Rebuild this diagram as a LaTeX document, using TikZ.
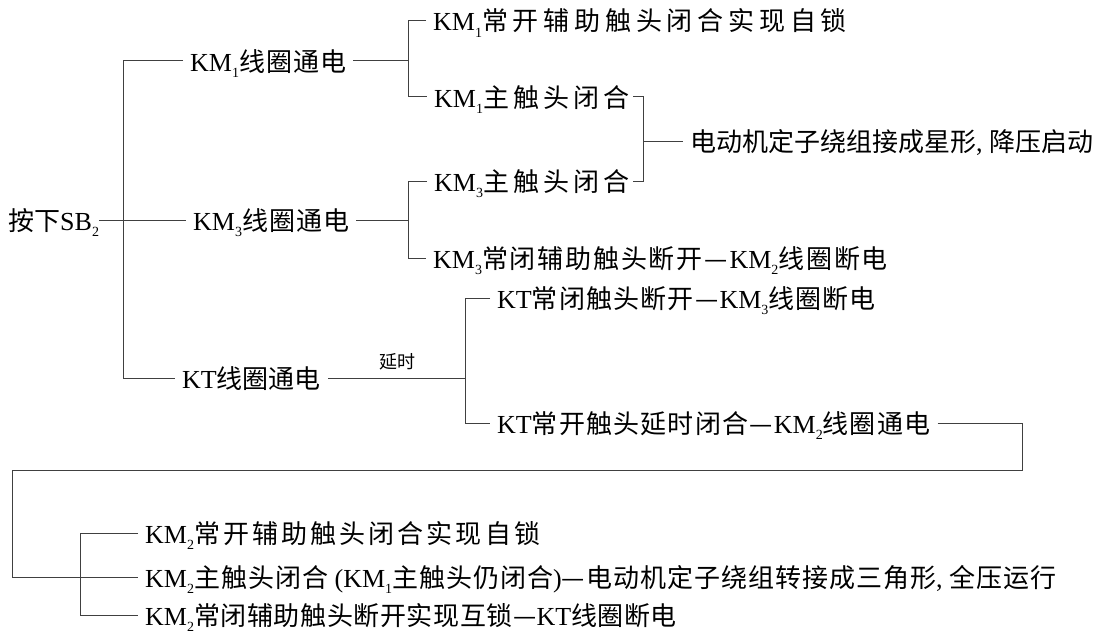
\documentclass[tikz,border=0pt]{standalone}
\usepackage{fontspec}
\setmainfont{Liberation Serif}
\newfontfamily\cjk{Noto Sans CJK SC}
\newcommand\K[2]{#1\raisebox{-6pt}{\fontsize{14}{14}\selectfont #2}}
\def\cgap{0pt}
\def\C#1{{\cjk\CA#1\relax}}
\def\CA#1{\ifx\relax#1\else#1\expandafter\CB\fi}
\def\CB#1{\ifx\relax#1\else\kern\cgap#1\expandafter\CB\fi}
\tikzset{
  txt/.style={anchor=west, inner xsep=7pt, inner ysep=0pt, text height=22pt, text depth=2pt, font=\fontsize{26}{26}\selectfont},
  ln/.style={draw=black!75, line width=1pt},
  small/.style={inner sep=0pt, font=\fontsize{18}{18}\selectfont}
}
\begin{document}
\begin{tikzpicture}[x=1pt,y=-1pt]
\useasboundingbox (0,0) rectangle (1101,634);
% nodes
\node[txt, inner xsep=0pt] (sb) at (8,220) {\C{按下}\K{SB}{2}};
\node[txt] (n1) at (183,61) {\def\cgap{1pt}\K{KM}{1}\C{线圈通电}};
\node[txt] (n2) at (186,220) {\def\cgap{1pt}\K{KM}{3}\C{线圈通电}};
\node[txt] (n3) at (175,378) {KT\C{线圈通电}};
\node[txt] (a1) at (426,21) {\def\cgap{4.8pt}\K{KM}{1}\C{常开辅助触头闭合实现自锁}};
\node[txt] (a2) at (427,97) {\def\cgap{4pt}\K{KM}{1}\C{主触头闭合}};
\node[txt] (a3) at (427,181) {\def\cgap{4pt}\K{KM}{3}\C{主触头闭合}};
\node[txt] (st) at (683,141) {\C{电动机定子绕组接成星形},\ \C{降压启动}};
\node[txt] (a4) at (426,258) {\def\cgap{1.8pt}\K{KM}{3}\C{常闭辅助触头断开—}\kern1.8pt\K{KM}{2}\C{线圈断电}};
\node[txt] (b1) at (490,298) {\def\cgap{1.2pt}KT\C{常闭触头断开—}\kern1.2pt\K{KM}{3}\C{线圈断电}};
\node[txt] (b2) at (490,423) {\def\cgap{1.2pt}KT\C{常开触头延时闭合—}\kern1.2pt\K{KM}{2}\C{线圈通电}};
\node[txt] (c1) at (138,533) {\def\cgap{3.1pt}\K{KM}{2}\C{常开辅助触头闭合实现自锁}};
\node[txt] (c2) at (138,577) {\def\cgap{1pt}\K{KM}{2}\C{主触头闭合}\ (\K{KM}{1}\C{主触头仍闭合})\C{—电动机定子绕组转接成三角形},\ \C{全压运行}};
\node[txt] (c3) at (138,615) {\def\cgap{0.6pt}\K{KM}{2}\C{常闭辅助触头断开实现互锁—}KT\C{线圈断电}};
\node[small] (dl) at (397,362) {\C{延时}};
% bus coordinates
\coordinate (t) at (123,0);
\coordinate (u) at (408,0);
\coordinate (v) at (643,0);
\coordinate (w) at (465,0);
\coordinate (z) at (80,0);
\coordinate (r) at (1022,470);
\coordinate (l) at (12,470);
% connectors
\draw[ln] (sb.east) -- (n2.west);
\draw[ln] (n1.west) -- (n1.west -| t) -- (n3.west -| t) -- (n3.west);
\draw[ln] (n1.east) -- (n1.east -| u);
\draw[ln] (a1.west) -- (a1.west -| u) -- (a2.west -| u) -- (a2.west);
\draw[ln] (n2.east) -- (n2.east -| u);
\draw[ln] (a3.west) -- (a3.west -| u) -- (a4.west -| u) -- (a4.west);
\draw[ln] ([xshift=-10pt]v |- a2.east) -- (v |- a2.east) -- (v |- a3.east) -- ([xshift=-10pt]v |- a3.east);
\draw[ln] (v |- st.west) -- (st.west);
\draw[ln] (n3.east) -- (n3.east -| w);
\draw[ln] (b1.west) -- (b1.west -| w) -- (b2.west -| w) -- (b2.west);
\draw[ln] (b2.east) -- (b2.east -| r) -- (r) -- (l) -- (l |- c2.west) -- (c2.west);
\draw[ln] (c1.west) -- (c1.west -| z) -- (c3.west -| z) -- (c3.west);
\end{tikzpicture}
\end{document}
